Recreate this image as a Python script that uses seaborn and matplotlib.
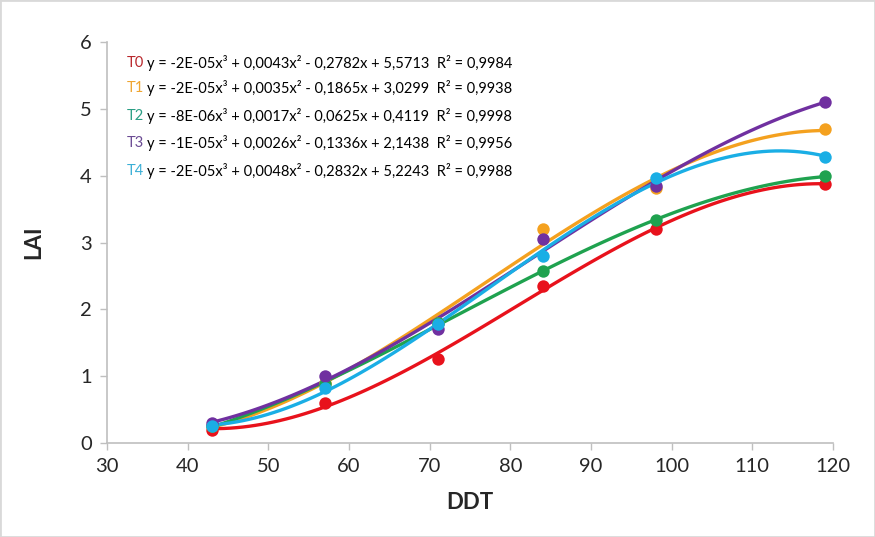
import matplotlib
matplotlib.use("Agg")
import matplotlib.pyplot as plt
import matplotlib.patches as patches
import seaborn as sns

# DDT sampling points
ddt = [43, 57, 71, 84, 98, 119]

# LAI per treatment
lai_t0 = [0.20, 0.60, 1.25, 2.35, 3.20, 3.88]
lai_t1 = [0.25, 0.90, 1.80, 3.20, 3.82, 4.70]
lai_t2 = [0.25, 0.88, 1.80, 2.57, 3.33, 3.99]
lai_t3 = [0.30, 1.00, 1.70, 3.05, 3.84, 5.11]
lai_t4 = [0.25, 0.82, 1.78, 2.80, 3.96, 4.28]

labels = ["T0", "T1", "T2", "T3", "T4"]
equations = [
    "y = -2E-05x³ + 0,0043x² - 0,2782x + 5,5713  R² = 0,9984",
    "y = -2E-05x³ + 0,0035x² - 0,1865x + 3,0299  R² = 0,9938",
    "y = -8E-06x³ + 0,0017x² - 0,0625x + 0,4119  R² = 0,9998",
    "y = -1E-05x³ + 0,0026x² - 0,1336x + 2,1438  R² = 0,9956",
    "y = -2E-05x³ + 0,0048x² - 0,2832x + 5,2243  R² = 0,9988",
]
series = [lai_t0, lai_t1, lai_t2, lai_t3, lai_t4]
colors = ["#E8121C", "#F4A11F", "#1FA24F", "#7030A0", "#1AAEE5"]
label_colors = ["#B8262B", "#EFA531", "#2A9E84", "#6A4A93", "#3AAFD6"]

sns.set_style("white")
plt.rcParams["font.family"] = ["Lato", "DejaVu Sans"]

fig = plt.figure(figsize=(8.75, 5.37), dpi=100)
ax = fig.add_axes([0.1223, 0.175, 0.8297, 0.7467])

for vals, col in zip(series, colors):
    sns.regplot(x=ddt, y=vals, order=3, ci=None, color=col, ax=ax,
                scatter_kws={"s": 80, "alpha": 1, "zorder": 3, "linewidths": 0},
                line_kws={"lw": 2.4, "zorder": 2})

ax.set_xlim(30, 120)
ax.set_ylim(0, 6)
ax.set_xticks(range(30, 121, 10))
ax.set_yticks(range(0, 7))
ax.tick_params(axis="both", labelsize=14.5, length=5, width=1, color="#BFBFBF",
               direction="out", pad=6, bottom=True, left=True)
for side in ["top", "right"]:
    ax.spines[side].set_visible(False)
for side in ["left", "bottom"]:
    ax.spines[side].set_color("#BFBFBF")
    ax.spines[side].set_linewidth(1.2)

ax.set_xlabel("DDT", fontsize=16, fontweight="bold", labelpad=12)
ax.set_ylabel("LAI", fontsize=16, fontweight="bold", labelpad=26)

ys = [62.7, 87.7, 116, 143.3, 170.7]
for lab, eq, col, y in zip(labels, equations, label_colors, ys):
    fig.text(127 / 875, 1 - y / 537, lab, color=col, fontsize=10.5, va="center")
    fig.text(147 / 875, 1 - y / 537, eq, color="black", fontsize=10.5, va="center")

fig.add_artist(patches.Rectangle((0, 0), 1, 1, transform=fig.transFigure,
                                 fill=False, edgecolor="#D9D9D9", lw=2))

fig.savefig("out.png", dpi=100)
